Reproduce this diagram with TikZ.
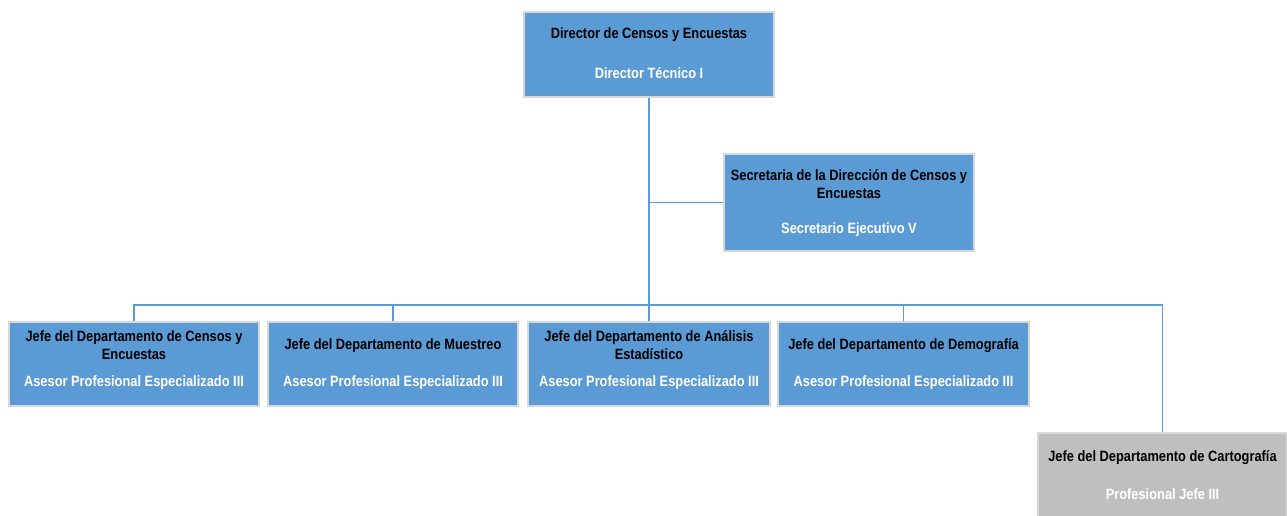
\documentclass[tikz,border=0pt]{standalone}
\usepackage{fontspec}
\setmainfont{Liberation Sans}[FakeStretch=0.86]
\usetikzlibrary{shadows}
\definecolor{boxblue}{HTML}{5B9BD5}
\definecolor{boxgray}{HTML}{BFBFBF}
\definecolor{linkblue}{HTML}{5B9BD5}
\definecolor{edgegray}{HTML}{D8D8D8}
\tikzset{
  box/.style={rectangle, fill=boxblue, draw=edgegray, line width=0.8pt, inner sep=0pt,
    drop shadow={shadow xshift=1pt, shadow yshift=-1pt, opacity=0.2, fill=black}},
  graybox/.style={box, fill=boxgray},
  ttl/.style={font=\bfseries\fontsize{11.2}{13.5}\selectfont, text=black, align=center, inner sep=0pt},
  sub/.style={font=\bfseries\fontsize{11.2}{13.5}\selectfont, text=white, align=center, inner sep=0pt},
  conn/.style={draw=linkblue, line width=1.1pt}
}
\begin{document}
\begin{tikzpicture}[x=0.75pt, y=-0.75pt]
\useasboundingbox (0,0) rectangle (1287,516);
% boxes
\node[box, minimum width=250*0.75pt, minimum height=85*0.75pt] (dir) at (649,54.5) {};
\node[box, minimum width=250*0.75pt, minimum height=97*0.75pt] (sec) at (849,202.5) {};
\node[box, minimum width=250*0.75pt, minimum height=84*0.75pt] (d1) at (134,364) {};
\node[box, minimum width=250*0.75pt, minimum height=84*0.75pt] (d2) at (393,364) {};
\node[box, minimum width=242*0.75pt, minimum height=84*0.75pt] (d3) at (649,364) {};
\node[box, minimum width=251*0.75pt, minimum height=84*0.75pt] (d4) at (903.5,364) {};
\node[graybox, minimum width=249*0.75pt, minimum height=86*0.75pt] (d5) at (1162.5,476) {};
% connectors
\coordinate (bus) at (649,305);
\draw[conn] (dir.south) -- (d3.north);
\draw[conn] (dir.south |- sec.west) -- (sec.west);
\draw[conn] (d1.north) -- (d1.north |- bus) -- (d5.north |- bus) -- (d5.north);
\draw[conn] (d2.north) -- (d2.north |- bus);
\draw[conn] (d4.north) -- (d4.north |- bus);
% texts
\node[ttl] (dirT) at (649,35) {Director de Censos y Encuestas};
\node[sub] (dirS) at (649,73) {Director Técnico I};
\node[ttl] (secT) at (849,184) {Secretaria de la Dirección de Censos y\\Encuestas};
\node[sub] (secS) at (849,230) {Secretario Ejecutivo V};
\node[ttl] (d1T) at (134,345) {Jefe del Departamento de Censos y\\Encuestas};
\node[sub] (d1S) at (134,383) {Asesor Profesional Especializado III};
\node[ttl] (d2T) at (393,346) {Jefe del Departamento de Muestreo};
\node[sub] (d2S) at (393,383) {Asesor Profesional Especializado III};
\node[ttl] (d3T) at (649,345) {Jefe del Departamento de Análisis\\Estadístico};
\node[sub] (d3S) at (649,383) {Asesor Profesional Especializado III};
\node[ttl] (d4T) at (903.5,346) {Jefe del Departamento de Demografía};
\node[sub] (d4S) at (903.5,383) {Asesor Profesional Especializado III};
\node[ttl] (d5T) at (1162.5,458) {Jefe del Departamento de Cartografía};
\node[sub] (d5S) at (1162.5,494) {Profesional Jefe III};
\end{tikzpicture}
\end{document}
